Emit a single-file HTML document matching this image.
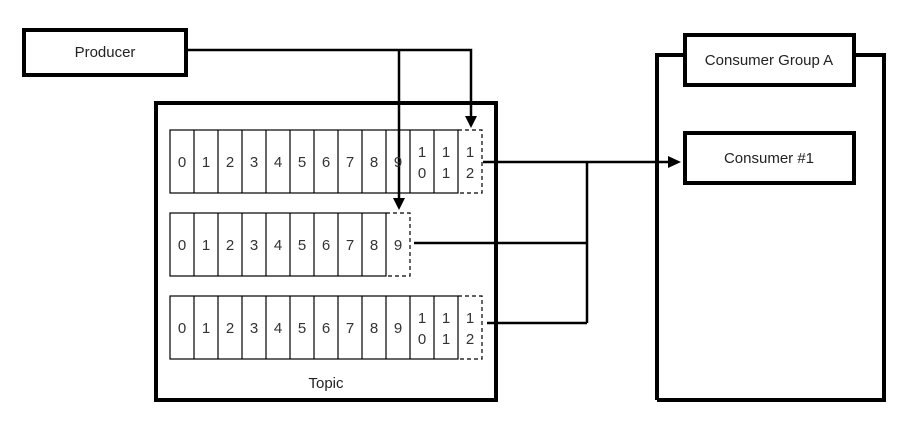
<!DOCTYPE html>
<html><head><style>html,body{margin:0;padding:0;background:#fff}</style></head>
<body>
<svg width="911" height="422" viewBox="0 0 911 422" xmlns="http://www.w3.org/2000/svg" font-family="Liberation Sans, sans-serif">
<rect width="911" height="422" fill="#fff"/>
<g fill="none" stroke="#000">
<rect x="24" y="30" width="162" height="45" stroke-width="4"/>
<rect x="156" y="103" width="340" height="297" stroke-width="4"/>
<path d="M657 400 V55 H684 M854 55 H884 V400 H657" stroke-width="4"/>
<rect x="685" y="35" width="169" height="50" stroke-width="4"/>
<rect x="685" y="133" width="169" height="50" stroke-width="4"/>
<g stroke-width="1.2">
<rect x="170" y="130" width="288" height="63"/>
<rect x="170" y="213" width="216" height="63"/>
<rect x="170" y="296" width="288" height="63"/>
<path d="M194 130V193M218 130V193M242 130V193M266 130V193M290 130V193M314 130V193M338 130V193M362 130V193M386 130V193M410 130V193M434 130V193"/>
<path d="M194 213V276M218 213V276M242 213V276M266 213V276M290 213V276M314 213V276M338 213V276M362 213V276"/>
<path d="M194 296V359M218 296V359M242 296V359M266 296V359M290 296V359M314 296V359M338 296V359M362 296V359M386 296V359M410 296V359M434 296V359"/>
<g stroke-dasharray="4,3">
<path d="M458 130H482V193H458"/>
<path d="M386 213H410V276H386"/>
<path d="M458 296H482V359H458"/>
</g>
</g>
<g stroke-width="2.5">
<path d="M186 50H471V118"/>
<path d="M399 50V200"/>
<path d="M483 162H670"/>
<path d="M587 162V323"/>
<path d="M414 243H587"/>
<path d="M487 323H587"/>
</g>
</g>
<g fill="#000">
<path d="M465 116H477L471 128Z"/>
<path d="M393 198H405L399 210Z"/>
<path d="M668 156V168L681 162Z"/>
</g>
<g font-size="15" fill="#222" text-anchor="middle">
<text x="105" y="57">Producer</text>
<text x="769" y="65">Consumer Group A</text>
<text x="769" y="163">Consumer #1</text>
<text x="326" y="388">Topic</text>
</g>
<g font-size="15" fill="#333" text-anchor="middle">
<text x="182" y="167">0</text><text x="206" y="167">1</text><text x="230" y="167">2</text><text x="254" y="167">3</text><text x="278" y="167">4</text><text x="302" y="167">5</text><text x="326" y="167">6</text><text x="350" y="167">7</text><text x="374" y="167">8</text><text x="398" y="167">9</text>
<text x="422" y="157">1</text><text x="422" y="178">0</text><text x="446" y="157">1</text><text x="446" y="178">1</text><text x="470" y="157">1</text><text x="470" y="178">2</text>
<text x="182" y="250">0</text><text x="206" y="250">1</text><text x="230" y="250">2</text><text x="254" y="250">3</text><text x="278" y="250">4</text><text x="302" y="250">5</text><text x="326" y="250">6</text><text x="350" y="250">7</text><text x="374" y="250">8</text><text x="398" y="250">9</text>
<text x="182" y="333">0</text><text x="206" y="333">1</text><text x="230" y="333">2</text><text x="254" y="333">3</text><text x="278" y="333">4</text><text x="302" y="333">5</text><text x="326" y="333">6</text><text x="350" y="333">7</text><text x="374" y="333">8</text><text x="398" y="333">9</text>
<text x="422" y="323">1</text><text x="422" y="344">0</text><text x="446" y="323">1</text><text x="446" y="344">1</text><text x="470" y="323">1</text><text x="470" y="344">2</text>
</g>
</svg>
</body></html>
